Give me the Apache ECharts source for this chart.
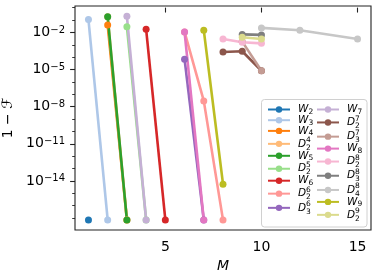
<!DOCTYPE html>
<html>
<head>
<meta charset="utf-8">
<script src="https://cdn.jsdelivr.net/npm/echarts@6/dist/echarts.min.js"></script>
<style>
html,body{margin:0;padding:0;background:#fff;}
#c{width:377px;height:277px;}
</style>
</head>
<body>
<div id="c"></div>
<script>
// ---- data (M values and 1-F values) ----
const BOTTOM = 7e-18;
const names = ['W2','W3','W4','D2^4','W5','D2^5','W6','D2^6','D3^6',
               'W7','D2^7','D3^7','W8','D2^8','D3^8','D4^8','W9','D2^9'];
const W2_M = [1];          const W2_V = [BOTTOM];
const W3_M = [1, 2];       const W3_V = [0.11, BOTTOM];
const W4_M = [2, 3];       const W4_V = [0.039, BOTTOM];
const D24_M = [2, 3];      const D24_V = [0.18, BOTTOM];
const W5_M = [2, 3];       const W5_V = [0.18, BOTTOM];
const D25_M = [3, 4];      const D25_V = [0.028, BOTTOM];
const W6_M = [4, 5];       const W6_V = [0.018, BOTTOM];
const D26_M = [6, 7, 8];   const D26_V = [0.011, 2.9e-8, BOTTOM];
const D36_M = [6, 7];      const D36_V = [6.8e-5, BOTTOM];
const W7_M = [3, 4];       const W7_V = [0.2, BOTTOM];
const D27_M = [8, 9, 10];  const D27_V = [2.6e-4, 3.0e-4, 7.9e-6];
const D37_M = [9, 10];     const D37_V = [1.8e-3, 7.9e-6];
const W8_M = [6, 7];       const W8_V = [0.011, BOTTOM];
const D28_M = [8, 9, 10];  const D28_V = [2.9e-3, 1.6e-3, 1.3e-3];
const D38_M = [9, 10];     const D38_V = [6.9e-3, 6.3e-3];
const D48_M = [10, 12, 15];const D48_V = [0.023, 0.015, 2.9e-3];
const W9_M = [7, 8];       const W9_V = [0.015, 5.4e-15];
const D29_M = [9, 10];     const D29_V = [4.0e-3, 2.9e-3];

const allM = [W2_M,W3_M,W4_M,D24_M,W5_M,D25_M,W6_M,D26_M,D36_M,W7_M,D27_M,D37_M,W8_M,D28_M,D38_M,D48_M,W9_M,D29_M];
const allV = [W2_V,W3_V,W4_V,D24_V,W5_V,D25_V,W6_V,D26_V,D36_V,W7_V,D27_V,D37_V,W8_V,D28_V,D38_V,D48_V,W9_V,D29_V];

const colors = ['#1f77b4','#aec7e8','#ff7f0e','#ffbb78','#2ca02c','#98df8a','#d62728','#ff9896','#9467bd',
                '#c5b0d5','#8c564b','#c49c94','#e377c2','#f7b6d2','#7f7f7f','#c7c7c7','#bcbd22','#dbdb8d'];

const xTicks = [5, 10, 15];
const yMajorExp = [-14, -11, -8, -5, -2];
const yMinorExp = [-17,-16,-15,-14,-13,-12,-11,-10,-9,-8,-7,-6,-5,-4,-3,-2,-1,0];

// ---- build ----
const series = names.map((n, i) => ({
  name: n,
  type: 'line',
  data: allM[i].map((m, j) => [m, Math.log10(allV[i][j])]),
  symbol: 'circle',
  symbolSize: 7,
  showSymbol: true,
  color: colors[i],
  lineStyle: {width: 2.6, color: colors[i]},
  itemStyle: {color: colors[i]},
  emphasis: {disabled: true},
  animation: false,
  z: 2
}));

function legendFmt(n) {
  if (n[0] === 'W') return '{w|W}{ws|' + n.slice(1) + '}';
  const sub = n[1], sup = n.slice(3);
  return '{d|D}{sp|' + sup + '}{sb|' + sub + '}';
}
const legendRich = {
  w: {fontFamily: 'DejaVu Sans', fontStyle: 'italic', fontSize: 10.5, lineHeight: 13, verticalAlign: 'middle', color: '#000', padding:[0,0,0,3]},
  ws: {fontFamily: 'DejaVu Sans', fontSize: 7.5, lineHeight: 7, verticalAlign: 'bottom', color: '#000'},
  d: {fontFamily: 'DejaVu Sans', fontStyle: 'italic', fontSize: 10.5, lineHeight: 15.5, verticalAlign: 'middle', color: '#000', padding:[0,0,0,3]},
  sp: {fontFamily: 'DejaVu Sans', fontSize: 7.5, lineHeight: 7, verticalAlign: 'top', color: '#000', width: 0},
  sb: {fontFamily: 'DejaVu Sans', fontSize: 7.5, lineHeight: 10, verticalAlign: 'bottom', color: '#000'}
};
function makeLegend(data, left) {
  return {
    data: data, orient: 'vertical', left: left, top: 104, itemWidth: 22, itemHeight: 8,
    itemGap: -1.3, padding: 0, selectedMode: false, formatter: legendFmt,
    textStyle: {rich: legendRich, fontSize: 10.5}
  };
}

const chart = echarts.init(document.getElementById('c'), null, {renderer: 'canvas'});
chart.setOption({
  animation: false,
  backgroundColor: '#fff',
  grid: {left: 75, right: 6, top: 6, bottom: 47, show: true, borderColor: '#222', borderWidth: 1.1, backgroundColor: 'transparent', outerBoundsMode: 'none'},
  xAxis: {
    type: 'value', min: 0.3, max: 15.7,
    axisLine: {show: false}, splitLine: {show: false},
    axisTick: {show: true, length: 4.9, customValues: xTicks, lineStyle: {color: '#222', width: 1.1}},
    axisLabel: {customValues: xTicks, fontFamily: 'DejaVu Sans', fontSize: 14, color: '#000', margin: 10},
    name: 'M', nameLocation: 'middle', nameGap: 21,
    nameTextStyle: {fontFamily: 'DejaVu Sans', fontStyle: 'italic', fontSize: 14, color: '#000'}
  },
  yAxis: [{
    type: 'value', min: -17.97, max: 0.133,
    axisLine: {show: false}, splitLine: {show: false},
    axisTick: {show: true, length: 4.9, customValues: yMajorExp, lineStyle: {color: '#222', width: 1.1}},
    axisLabel: {
      customValues: yMajorExp, margin: 10, color: '#000',
      formatter: v => '{b|10}{s|' + (v < 0 ? '\u2212' : '') + Math.abs(v) + '}',
      rich: {
        b: {fontFamily: 'DejaVu Sans', fontSize: 14, lineHeight: 14, verticalAlign: 'bottom', color: '#000'},
        s: {fontFamily: 'DejaVu Sans', fontSize: 10, lineHeight: 10, verticalAlign: 'top', color: '#000'}
      }
    },
    name: '1 \u2212 \u2131', nameLocation: 'middle', nameGap: 51, nameRotate: 90,
    nameTextStyle: {fontFamily: 'DejaVu Sans', fontSize: 14, color: '#000'}
  }, {
    type: 'value', min: -17.97, max: 0.133, position: 'left',
    axisLine: {show: false}, splitLine: {show: false}, axisLabel: {show: false},
    axisTick: {show: true, length: 2.8, customValues: yMinorExp, lineStyle: {color: '#222', width: 0.9}}
  }],
  legend: [makeLegend(names.slice(0, 9), 267), makeLegend(names.slice(9), 316)],
  graphic: [{
    type: 'rect', z: 3, shape: {x: 261.5, y: 99.5, width: 105.5, height: 127.5, r: 3},
    style: {fill: 'rgba(255,255,255,0.8)', stroke: '#d0d0d0', lineWidth: 1}
  }],
  series: series
});
</script>
</body>
</html>
